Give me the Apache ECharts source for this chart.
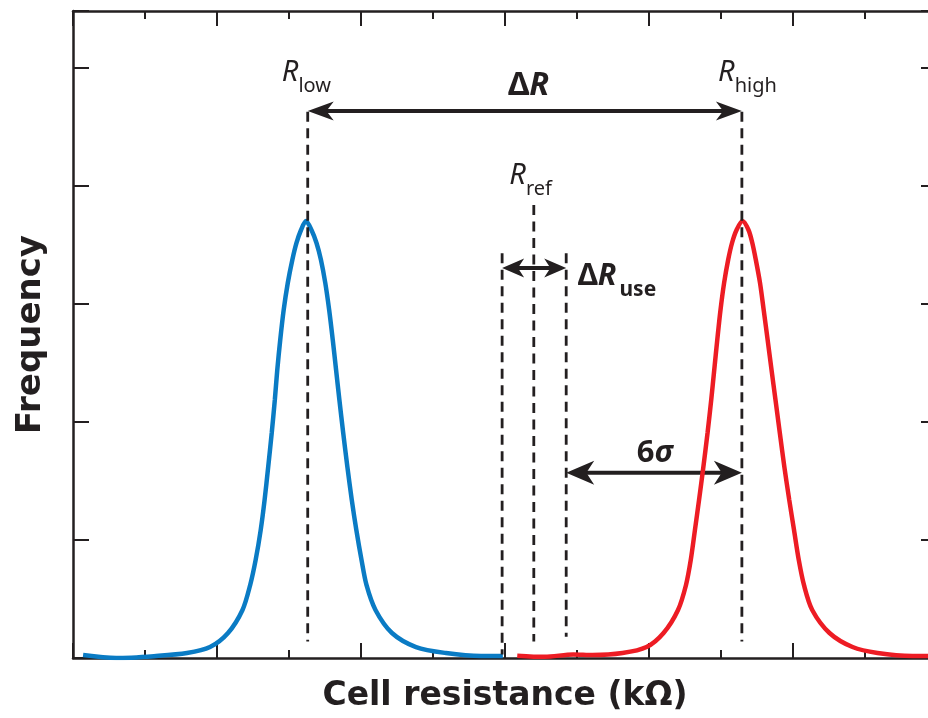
<!DOCTYPE html>
<html>
<head>
<meta charset="utf-8">
<script src="https://cdn.jsdelivr.net/npm/echarts/dist/echarts.min.js"></script>
<style>
  html, body { margin: 0; background: #fff; }
  #chart { width: 928px; height: 718px; }
</style>
</head>
<body>
<div id="chart"></div>
<script>
// low resistance state distribution (blue)
const blueX = [0.14, 0.60, 1.153, 1.583, 1.903, 2.153, 2.354, 2.461, 2.537, 2.607, 2.661, 2.711, 2.760, 2.803, 2.837, 2.878, 2.926, 2.983, 3.046, 3.104, 3.167, 3.236,
  3.312, 3.382, 3.444, 3.504, 3.558, 3.608, 3.654, 3.700, 3.753, 3.811, 3.872, 3.935, 4.007, 4.076, 4.201, 4.430, 4.764, 5.180, 5.667, 5.97];
const blueY = [0.025, 0.00, 0.017, 0.042, 0.093, 0.212, 0.407, 0.619, 0.831, 1.085, 1.339, 1.619, 1.907, 2.186, 2.441, 2.695, 2.949, 3.178, 3.373, 3.517, 3.627, 3.703,
  3.627, 3.517, 3.373, 3.178, 2.949, 2.695, 2.441, 2.186, 1.907, 1.619, 1.339, 1.085, 0.831, 0.619, 0.407, 0.212, 0.093, 0.042, 0.017, 0.017];
// high resistance state distribution (red)
const redX = [6.17, 6.55, 6.95, 7.216, 7.632, 7.966, 8.202, 8.403, 8.514, 8.580, 8.638, 8.695, 8.755, 8.813, 8.864, 8.906, 8.948, 8.993, 9.043, 9.099, 9.153, 9.216, 9.299,
  9.382, 9.435, 9.484, 9.542, 9.593, 9.648, 9.702, 9.757, 9.817, 9.880, 9.948, 10.014, 10.080, 10.152, 10.267, 10.507, 10.827, 11.174, 11.660, 11.99];
const redY = [0.02, 0.01, 0.03, 0.025, 0.042, 0.093, 0.212, 0.407, 0.619, 0.831, 1.085, 1.339, 1.619, 1.907, 2.186, 2.441, 2.695, 2.949, 3.178, 3.373, 3.517, 3.627, 3.703,
  3.627, 3.517, 3.373, 3.178, 2.949, 2.695, 2.441, 2.186, 1.907, 1.619, 1.339, 1.085, 0.831, 0.619, 0.407, 0.212, 0.093, 0.042, 0.017, 0.017];

// dashed guides: R_low, R_high, ΔR_use left, R_ref, ΔR_use right
const guideX = [3.26, 9.29, 5.96, 6.40, 6.85];
const guideTop = [4.63, 4.63, 3.43, 3.84, 3.43];
const guideBottom = [0.14, 0.14, 0.03, 0.14, 0.18];

// double arrows: ΔR, ΔR_use, 6σ
const arrowFrom = [3.26, 5.96, 6.85];
const arrowTo = [9.29, 6.85, 9.29];
const arrowY = [4.635, 3.305, 1.57];

// annotations
const labelText = ['{it|R}{sub|low}', '{it|R}{sub|high}', '{bd|Δ}{bdi|R}', '{it|R}{sub|ref}', '{bd2|Δ}{bdi2|R}{subb|use}', '{sg|6}{sgi|σ}'];
const labelX = [2.90, 8.96, 6.04, 6.06, 7.01, 7.83];
const labelY = [4.96, 4.96, 4.85, 4.09, 3.23, 1.74];

const ink = '#231f20';
const headSizes = [[26, 19], [22, 19], [28, 24]];
const sans = '"Noto Sans", "Open Sans", sans-serif';

const rich = {
  it: { fontFamily: sans, fontStyle: 'italic', fontSize: 29, fill: ink },
  sub: { fontFamily: sans, fontSize: 20, fill: ink, padding: [28, 0, 0, 0] },
  bd: { fontFamily: sans, fontWeight: 'bold', fontSize: 32, fill: ink },
  bdi: { fontFamily: sans, fontWeight: 'bold', fontStyle: 'italic', fontSize: 32, fill: ink },
  bd2: { fontFamily: sans, fontWeight: 'bold', fontSize: 30, fill: ink },
  bdi2: { fontFamily: sans, fontWeight: 'bold', fontStyle: 'italic', fontSize: 30, fill: ink },
  subb: { fontFamily: sans, fontWeight: 'bold', fontSize: 21, fill: ink, padding: [26, 0, 0, 3] },
  sg: { fontFamily: sans, fontWeight: 'bold', fontSize: 31, fill: ink },
  sgi: { fontFamily: sans, fontWeight: 'bold', fontStyle: 'italic', fontSize: 31, fill: ink }
};

function zip(xs, ys) { return xs.map((x, i) => [x, ys[i]]); }

function xAxisCfg(pos) {
  return {
    type: 'value', position: pos, min: 0, max: 12, interval: 2,
    axisLine: { show: true, onZero: false, lineStyle: { color: ink, width: 2.5 } },
    axisTick: { show: true, inside: true, length: 15, lineStyle: { color: ink, width: 2 } },
    minorTick: { show: true, splitNumber: 2, length: 8, lineStyle: { color: ink, width: 2 } },
    axisLabel: { show: false }, splitLine: { show: false }, minorSplitLine: { show: false }
  };
}
function yAxisCfg(pos) {
  return {
    type: 'value', position: pos, min: 0, max: 5.483, interval: 1,
    axisLine: { show: true, onZero: false, lineStyle: { color: ink, width: 2.5 } },
    axisTick: { show: true, inside: true, length: 16, lineStyle: { color: ink, width: 2 } },
    axisLabel: { show: false }, splitLine: { show: false }
  };
}

const titleStyle = { fontFamily: '"DejaVu Sans", sans-serif', fontWeight: 'bold', fontSize: 33, color: ink };

function renderGuide(params, api) {
  const top = api.coord([api.value(0), api.value(1)]);
  const bot = api.coord([api.value(0), api.value(2)]);
  return {
    type: 'line',
    shape: { x1: top[0], y1: top[1], x2: bot[0], y2: bot[1] },
    style: { stroke: ink, lineWidth: 2.8, lineDash: [10, 6.5] }
  };
}

function head(tip, dir, len, wid) {
  const x = tip[0], y = tip[1];
  return {
    type: 'polygon',
    shape: { points: [[x, y], [x - dir * len, y - wid / 2], [x - dir * len * 0.72, y], [x - dir * len, y + wid / 2]] },
    style: { fill: ink }
  };
}

function renderArrow(params, api) {
  const size = headSizes[params.dataIndex];
  const a = api.coord([api.value(0), api.value(2)]);
  const b = api.coord([api.value(1), api.value(2)]);
  return {
    type: 'group',
    children: [
      { type: 'line', shape: { x1: a[0] + size[0] * 0.6, y1: a[1], x2: b[0] - size[0] * 0.6, y2: b[1] }, style: { stroke: ink, lineWidth: 4 } },
      head(a, -1, size[0], size[1]),
      head(b, 1, size[0], size[1])
    ]
  };
}

function renderLabel(params, api) {
  const p = api.coord([api.value(0), api.value(1)]);
  return {
    type: 'text', x: p[0], y: p[1],
    style: { text: labelText[params.dataIndex], rich: rich, align: 'left', verticalAlign: 'middle', fill: ink }
  };
}

const chart = echarts.init(document.getElementById('chart'));
chart.setOption({
  animation: false,
  backgroundColor: '#fff',
  // right frame edge falls just outside the picture
  grid: { left: 73, top: 11, width: 864, height: 647, outerBoundsMode: 'none', containLabel: false },
  xAxis: [
    Object.assign(xAxisCfg('bottom'), { name: 'Cell resistance (kΩ)', nameLocation: 'middle', nameGap: 22, nameTextStyle: titleStyle }),
    xAxisCfg('top')
  ],
  yAxis: [
    Object.assign(yAxisCfg('left'), { name: 'Frequency', nameLocation: 'middle', nameGap: 25, nameTextStyle: Object.assign({}, titleStyle, { fontSize: 34 }) }),
    yAxisCfg('right')
  ],
  series: [
    {
      type: 'custom', renderItem: renderArrow, z: 2,
      encode: { x: [0, 1], y: 2 },
      data: arrowFrom.map((x, i) => [x, arrowTo[i], arrowY[i]])
    },
    {
      type: 'line', data: zip(blueX, blueY), smooth: 0.3, showSymbol: false, z: 3,
      lineStyle: { color: '#0a7bc4', width: 4.5 }, itemStyle: { color: '#0a7bc4' }
    },
    {
      type: 'line', data: zip(redX, redY), smooth: 0.3, showSymbol: false, z: 3,
      lineStyle: { color: '#ed1c24', width: 4.5 }, itemStyle: { color: '#ed1c24' }
    },
    {
      type: 'custom', renderItem: renderGuide, z: 4,
      encode: { x: 0, y: [1, 2] },
      data: guideX.map((x, i) => [x, guideTop[i], guideBottom[i]])
    },
    {
      type: 'custom', renderItem: renderLabel, z: 5,
      encode: { x: 0, y: 1 },
      data: zip(labelX, labelY)
    }
  ]
});
</script>
</body>
</html>
